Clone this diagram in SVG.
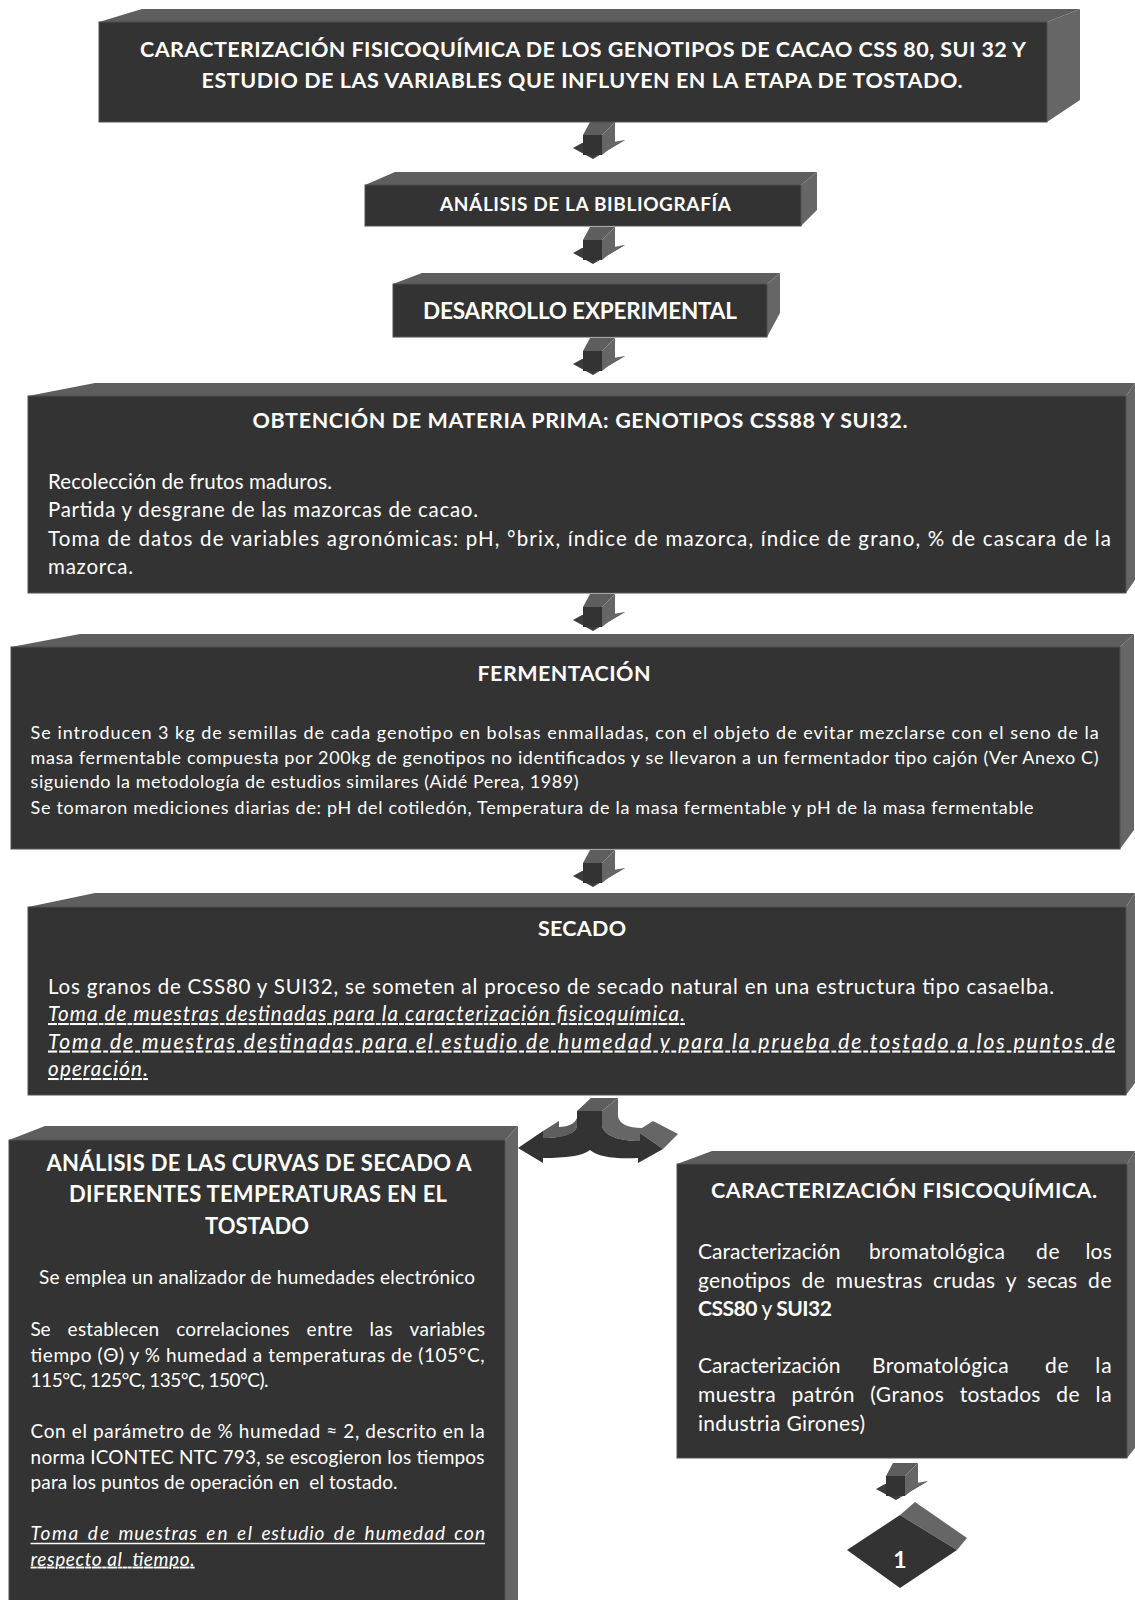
<svg xmlns="http://www.w3.org/2000/svg" width="1135" height="1600" viewBox="0 0 1135 1600">
<style>
.front{fill:#333333;stroke:#505050;stroke-width:1}
.top{fill:#5e5e5e}
.side{fill:#666666}
.dk{fill:#333333}
.hd{fill:#3c3c3c}
text{font-family:Lato,'Open Sans','Liberation Sans',sans-serif;fill:#ffffff}
.h{font-weight:bold}
.c{text-anchor:middle}
.u{text-decoration:underline;font-style:italic}
.i{font-style:italic}
.ul{stroke:#ffffff;stroke-width:1.3}
</style>
<defs>
<g id="darrow">
<path class="hd" d="M-10,13 L-1,8 L32,8 L42,5 L10,24 Z"/>
<path class="side" d="M19,9 L42,5 L13,22 Z"/>
<path class="top" d="M0,0 L7,-13 L32,-13 L19,0 Z"/>
<path class="side" d="M19,0 L32,-13 L32,9 L19,20 Z"/>
<rect class="dk" x="0" y="0" width="19" height="20"/>
</g>
</defs>
<rect width="1135" height="1600" fill="#ffffff"/>

<g id="connectors">
<use href="#darrow" x="583" y="135"/>
<use href="#darrow" x="583" y="240"/>
<use href="#darrow" x="583" y="351"/>
<use href="#darrow" x="583" y="607"/>
<use href="#darrow" x="583" y="863"/>
<use href="#darrow" x="886" y="1476"/>
<g id="split-arrow">
<path class="top" d="M577,1111 L591,1098 L618,1098 L602,1111 Z"/>
<path class="side" d="M602,1111 L618,1098 L618,1116 C619,1124 628,1128 642,1128 L653,1121 L678,1134 L663,1149 L640,1133 L640,1141 C620,1141 604,1136 602,1126 Z"/>
<path class="top" d="M543,1131 L559,1121 L559,1127 C567,1127 575,1124 577,1118 L577,1126 C576,1133 566,1138 543,1138 Z"/>
<path class="dk" d="M577,1111 L602,1111 L602,1126 C604,1136 620,1141 640,1141 L640,1133 L663,1149 L638,1163 L638,1158 C615,1159 598,1157 590,1150 C583,1156 566,1158 543,1158 L543,1163 L518,1148 L543,1131 L543,1138 C565,1138 577,1133 577,1125 Z"/>
</g>
</g>

<g id="node-title">
<path class="top" d="M99,22 L142,9 L1080,9 L1047,22 Z"/>
<path class="side" d="M1047,22 L1080,9 L1080,100 L1047,122 Z"/>
<rect class="front" x="99" y="22" width="948" height="100"/>
<text class="h c" x="583" y="57" font-size="21.5" textLength="886">CARACTERIZACIÓN FISICOQUÍMICA DE LOS GENOTIPOS DE CACAO CSS 80, SUI 32 Y</text>
<text class="h c" x="582" y="88" font-size="21.5" textLength="761">ESTUDIO DE LAS VARIABLES QUE INFLUYEN EN LA ETAPA DE TOSTADO.</text>
</g>

<g id="node-bibliografia">
<path class="top" d="M365,185 L395,172 L817,172 L801,185 Z"/>
<path class="side" d="M801,185 L817,172 L817,210 L801,226 Z"/>
<rect class="front" x="365" y="185" width="436" height="41"/>
<text class="h c" x="585.5" y="210.5" font-size="19" textLength="291">ANÁLISIS DE LA BIBLIOGRAFÍA</text>
</g>

<g id="node-desarrollo">
<path class="top" d="M393,284 L422,273 L780,273 L767,284 Z"/>
<path class="side" d="M767,284 L780,273 L780,313 L767,337 Z"/>
<rect class="front" x="393" y="284" width="374" height="53"/>
<text class="h c" x="580" y="318.5" font-size="22.5" textLength="314">DESARROLLO EXPERIMENTAL</text>
</g>

<g id="node-materia-prima">
<path class="top" d="M28,396 L95,383 L1135,383 L1126,396 Z"/>
<path class="side" d="M1126,396 L1135,383 L1135,580 L1126,593 Z"/>
<rect class="front" x="28" y="396" width="1098" height="197"/>
<text class="h c" x="580" y="428" font-size="21.5" textLength="655">OBTENCIÓN DE MATERIA PRIMA: GENOTIPOS CSS88 Y SUI32.</text>
<text x="48" y="488.5" font-size="20.5" textLength="284">Recolección de frutos maduros.</text>
<text x="48" y="517" font-size="20.5" textLength="430">Partida y desgrane de las mazorcas de cacao.</text>
<text x="48" y="545.5" font-size="20.5" textLength="1063">Toma de datos de variables agronómicas: pH, °brix, índice de mazorca, índice de grano, % de cascara de la</text>
<text x="48" y="574" font-size="20.5" textLength="85">mazorca.</text>
</g>

<g id="node-fermentacion">
<path class="top" d="M11,647 L80,634 L1134,634 L1120,647 Z"/>
<path class="side" d="M1120,647 L1134,634 L1134,830 L1120,849 Z"/>
<rect class="front" x="11" y="647" width="1109" height="202"/>
<text class="h c" x="564" y="680.5" font-size="21.5" textLength="173">FERMENTACIÓN</text>
<text x="30.6" y="739" font-size="18" textLength="1068">Se introducen 3 kg de semillas de cada genotipo en bolsas enmalladas, con el objeto de evitar mezclarse con el seno de la</text>
<text x="30.6" y="763.5" font-size="18" textLength="1068">masa fermentable compuesta por 200kg de genotipos no identificados y se llevaron a un fermentador tipo cajón (Ver Anexo C)</text>
<text x="30.6" y="788" font-size="18" textLength="548">siguiendo la metodología de estudios similares (Aidé Perea, 1989)</text>
<text x="30.6" y="814" font-size="18" textLength="1003">Se tomaron mediciones diarias de: pH del cotiledón, Temperatura de la masa fermentable y pH de la masa fermentable</text>
</g>

<g id="node-secado">
<path class="top" d="M28,907 L95,893 L1135,893 L1126,907 Z"/>
<path class="side" d="M1126,907 L1135,893 L1135,1083 L1126,1095 Z"/>
<rect class="front" x="28" y="907" width="1098" height="188"/>
<text class="h c" x="582" y="936" font-size="21.5" textLength="88">SECADO</text>
<text x="48" y="993.5" font-size="20.5" textLength="1006">Los granos de CSS80 y SUI32, se someten al proceso de secado natural en una estructura tipo casaelba.</text>
<text class="u" x="48" y="1021" font-size="20.5" textLength="637">Toma de muestras destinadas para la caracterización fisicoquímica.</text>
<text class="u" x="48" y="1048.5" font-size="21" textLength="1067">Toma de muestras destinadas para el estudio de humedad y para la prueba de tostado a los puntos de</text>
<text class="u" x="48" y="1076" font-size="20.5" textLength="100">operación.</text>
</g>

<g id="node-curvas-secado">
<path class="top" d="M9,1140 L45,1126 L518,1126 L505,1140 Z"/>
<path class="side" d="M505,1140 L518,1126 L518,1600 L505,1612 Z"/>
<rect class="front" x="9" y="1140" width="496" height="475"/>
<text class="h c" x="259" y="1170.5" font-size="22" textLength="425">ANÁLISIS DE LAS CURVAS DE SECADO A</text>
<text class="h c" x="258" y="1202" font-size="22" textLength="378">DIFERENTES TEMPERATURAS EN EL</text>
<text class="h c" x="257" y="1233.5" font-size="22" textLength="104">TOSTADO</text>
<text class="c" x="257" y="1284" font-size="19" textLength="436">Se emplea un analizador de humedades electrónico</text>
<g font-size="19">
<text x="30.6" y="1336" textLength="19.9">Se</text>
<text x="67.6" y="1336" textLength="91.5">establecen</text>
<text x="176.2" y="1336" textLength="113.3">correlaciones</text>
<text x="306.6" y="1336" textLength="45.9">entre</text>
<text x="369.6" y="1336" textLength="22.9">las</text>
<text x="409.6" y="1336" textLength="75.5">variables</text>
</g>
<text x="30.6" y="1361.5" font-size="19" textLength="454">tiempo (Θ) y % humedad a temperaturas de (105°C,</text>
<text x="30.6" y="1387" font-size="19" textLength="238">115°C, 125°C, 135°C, 150°C).</text>
<text x="30.6" y="1438" font-size="19" textLength="454">Con el parámetro de % humedad ≈ 2, descrito en la</text>
<text x="30.6" y="1463.6" font-size="19" textLength="454">norma ICONTEC NTC 793, se escogieron los tiempos</text>
<text x="30.6" y="1489" font-size="19" textLength="367" xml:space="preserve">para los puntos de operación en  el tostado.</text>
<g class="i" font-size="19">
<text x="30.6" y="1540" textLength="47.7">Toma</text>
<text x="87.7" y="1540" textLength="21.3">de</text>
<text x="118.4" y="1540" textLength="78.4">muestras</text>
<text x="206.2" y="1540" textLength="21.3">en</text>
<text x="236.9" y="1540" textLength="15.1">el</text>
<text x="261.4" y="1540" textLength="63">estudio</text>
<text x="333.8" y="1540" textLength="21.3">de</text>
<text x="364.5" y="1540" textLength="80.6">humedad</text>
<text x="454.3" y="1540" textLength="30.7">con</text>
</g>
<line class="ul" x1="30.6" y1="1543.5" x2="485" y2="1543.5"/>
<text class="u" x="30.6" y="1565.6" font-size="19" textLength="164" xml:space="preserve">respecto al  tiempo.</text>
</g>

<g id="node-caracterizacion">
<path class="top" d="M677,1164 L712,1151 L1135,1151 L1127,1164 Z"/>
<path class="side" d="M1127,1164 L1135,1151 L1135,1448 L1127,1458 Z"/>
<rect class="front" x="677" y="1164" width="450" height="294"/>
<text class="h c" x="904" y="1198" font-size="21.5" textLength="386">CARACTERIZACIÓN FISICOQUÍMICA.</text>
<g font-size="21">
<text x="698" y="1259" textLength="142.4">Caracterización</text>
<text x="868.9" y="1259" textLength="136">bromatológica</text>
<text x="1036" y="1259" textLength="23.5">de</text>
<text x="1085.4" y="1259" textLength="26.4">los</text>
<text x="698" y="1287.5" textLength="92.6">genotipos</text>
<text x="801.4" y="1287.5" textLength="23.5">de</text>
<text x="835.7" y="1287.5" textLength="86.6">muestras</text>
<text x="933.1" y="1287.5" textLength="61.9">crudas</text>
<text x="1005.8" y="1287.5" textLength="10.4">y</text>
<text x="1027" y="1287.5" textLength="50.2">secas</text>
<text x="1088" y="1287.5" textLength="23.5">de</text>
<text x="698" y="1316" textLength="134"><tspan font-weight="bold">CSS80</tspan> y <tspan font-weight="bold">SUI32</tspan></text>
<text x="698" y="1373" textLength="142.4">Caracterización</text>
<text x="872" y="1373" textLength="136.6">Bromatológica</text>
<text x="1045" y="1373" textLength="23.5">de</text>
<text x="1095.3" y="1373" textLength="16.3">la</text>
<text x="698" y="1402" textLength="77.6">muestra</text>
<text x="791.4" y="1402" textLength="63">patrón</text>
<text x="870.2" y="1402" textLength="73.7">(Granos</text>
<text x="959.7" y="1402" textLength="80.7">tostados</text>
<text x="1056.2" y="1402" textLength="23.5">de</text>
<text x="1095.4" y="1402" textLength="16.3">la</text>
<text x="698" y="1430.5" textLength="167">industria Girones)</text>
</g>
</g>

<g id="node-connector-1">
<path class="side" d="M900,1515 L915,1502 L967,1538 L957,1550 Z"/>
<path class="dk" d="M847,1550 L900,1515 L957,1550 L900,1588 Z"/>
<text class="h c" x="900" y="1568" font-size="23">1</text>
</g>
</svg>
